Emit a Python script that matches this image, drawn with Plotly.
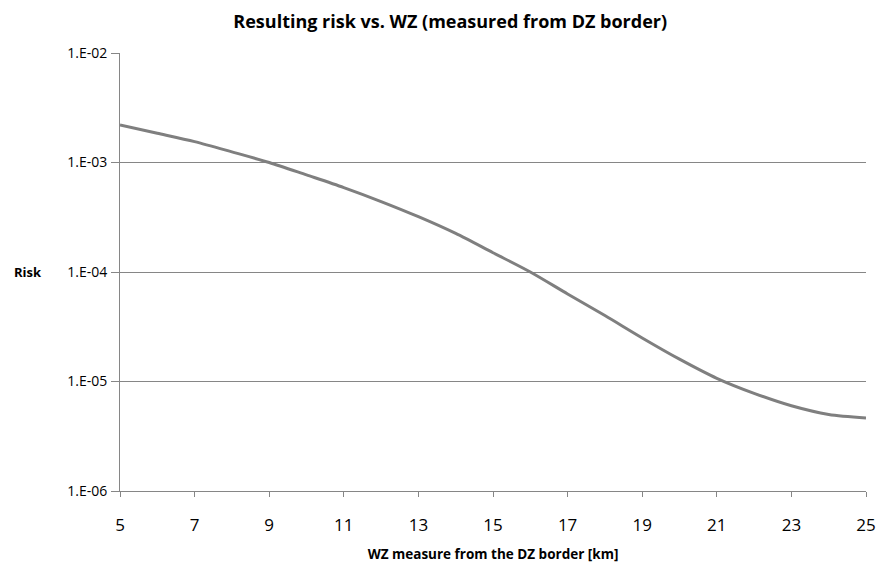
import plotly.graph_objects as go

distance_km = [5, 6, 7, 8, 9, 10, 11, 12, 13, 14, 15, 16, 17, 18, 19, 20, 21, 22, 23, 24, 25]
risk = [2.2e-3, 1.85e-3, 1.55e-3, 1.25e-3, 1.0e-3, 7.7e-4, 5.9e-4, 4.4e-4, 3.2e-4, 2.25e-4,
        1.5e-4, 1.0e-4, 6.3e-5, 4.0e-5, 2.5e-5, 1.6e-5, 1.07e-5, 7.8e-6, 6.0e-6, 5.0e-6, 4.65e-6]

x_ticks = [5, 7, 9, 11, 13, 15, 17, 19, 21, 23, 25]
y_tickvals = [1e-6, 1e-5, 1e-4, 1e-3, 1e-2]
y_ticktext = ["1.E-06", "1.E-05", "1.E-04", "1.E-03", "1.E-02"]

font_family = "Open Sans, Liberation Sans, sans-serif"

fig = go.Figure()
fig.add_trace(go.Scatter(
    x=distance_km, y=risk, mode="lines",
    line=dict(color="#7f7f7f", width=3, shape="spline", smoothing=0.8),
    showlegend=False, hoverinfo="skip",
))

fig.update_layout(
    width=888, height=572,
    margin=dict(l=120, r=14, t=53, b=75),
    paper_bgcolor="white", plot_bgcolor="white",
    font=dict(family=font_family, color="#000000"),
    title=dict(text="<b>Resulting risk vs. WZ (measured from DZ border)</b>",
               x=0.507, xanchor="center", y=0.9615, yanchor="middle",
               font=dict(size=18, family=font_family, color="#000000")),
)

fig.update_xaxes(
    range=[5, 25], tickvals=x_ticks, ticks="outside", ticklen=5, tickcolor="#868686",
    showline=True, linecolor="#868686", linewidth=1, showgrid=False, zeroline=False,
    tickfont=dict(size=17, family=font_family, color="#000000"),
    ticklabelstandoff=14,
    title=dict(text="<b>WZ measure from the DZ border [km]</b>",
               font=dict(size=13.5, family=font_family, color="#000000"), standoff=14),
)
fig.update_yaxes(
    type="log", range=[-6, -2], tickvals=y_tickvals, ticktext=y_ticktext,
    ticks="outside", ticklen=8, tickcolor="#868686",
    showline=True, linecolor="#868686", linewidth=1,
    showgrid=True, gridcolor="#868686", gridwidth=1, zeroline=False,
    tickfont=dict(size=14, family=font_family, color="#000000"),
    ticklabelstandoff=1,
)

fig.add_annotation(text="<b>Risk</b>", xref="paper", yref="paper", x=-0.1233, y=0.5,
                   xanchor="center", yanchor="middle", showarrow=False,
                   font=dict(size=13, family=font_family, color="#000000"))

fig.write_html(
    "out.html",
    config={"displayModeBar": False},
    post_script="document.documentElement.style.margin='0';document.body.style.margin='0';"
                "document.body.style.overflow='hidden';",
)
